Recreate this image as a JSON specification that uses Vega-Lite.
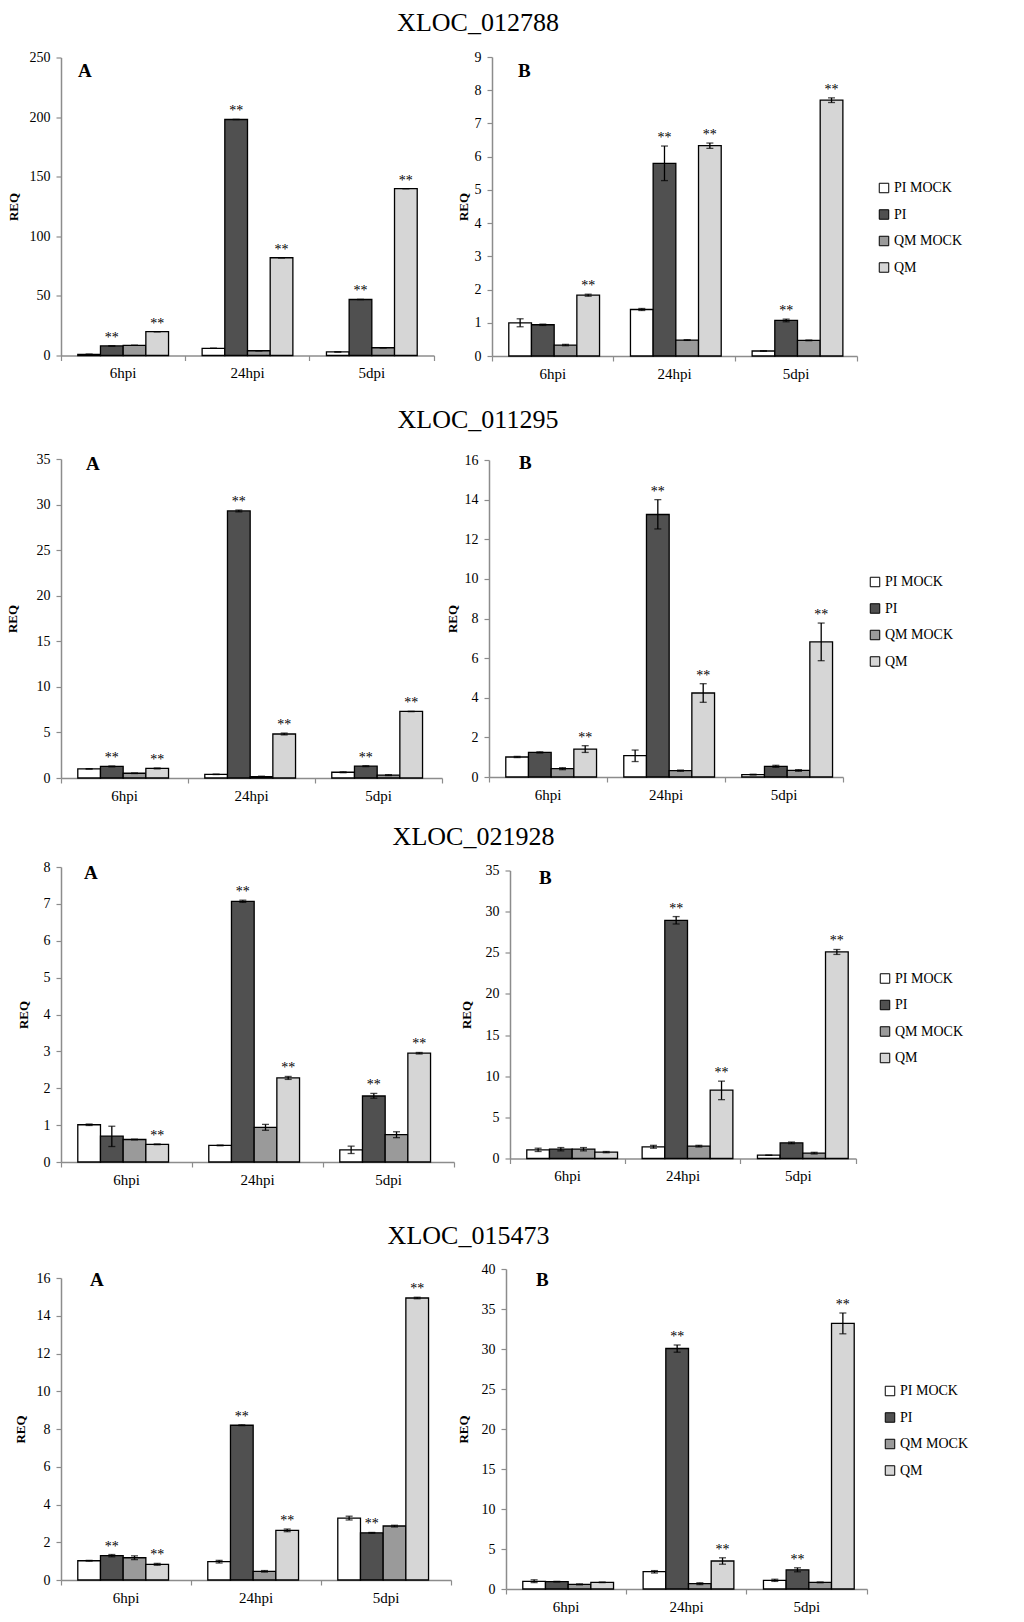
{
  "$schema": "https://vega.github.io/schema/vega-lite/v6.json",
  "background": "white",
  "padding": {"left": 6, "top": 10, "right": 0, "bottom": 0},
  "spacing": 10,
  "datasets": {
    "d": [
      {"gene": "XLOC_012788", "panel": "A", "time": "6hpi", "group": "PI MOCK", "value": 1, "lo": 1, "hi": 1, "sig": ""},
      {"gene": "XLOC_012788", "panel": "A", "time": "6hpi", "group": "PI", "value": 8, "lo": 8, "hi": 8, "sig": "**"},
      {"gene": "XLOC_012788", "panel": "A", "time": "6hpi", "group": "QM MOCK", "value": 8.5, "lo": 8.5, "hi": 8.5, "sig": ""},
      {"gene": "XLOC_012788", "panel": "A", "time": "6hpi", "group": "QM", "value": 20, "lo": 20, "hi": 20, "sig": "**"},
      {"gene": "XLOC_012788", "panel": "A", "time": "24hpi", "group": "PI MOCK", "value": 6, "lo": 6, "hi": 6, "sig": ""},
      {"gene": "XLOC_012788", "panel": "A", "time": "24hpi", "group": "PI", "value": 198, "lo": 198, "hi": 198, "sig": "**"},
      {"gene": "XLOC_012788", "panel": "A", "time": "24hpi", "group": "QM MOCK", "value": 4, "lo": 4, "hi": 4, "sig": ""},
      {"gene": "XLOC_012788", "panel": "A", "time": "24hpi", "group": "QM", "value": 82, "lo": 82, "hi": 82, "sig": "**"},
      {"gene": "XLOC_012788", "panel": "A", "time": "5dpi", "group": "PI MOCK", "value": 3, "lo": 3, "hi": 3, "sig": ""},
      {"gene": "XLOC_012788", "panel": "A", "time": "5dpi", "group": "PI", "value": 47, "lo": 47, "hi": 47, "sig": "**"},
      {"gene": "XLOC_012788", "panel": "A", "time": "5dpi", "group": "QM MOCK", "value": 6.5, "lo": 6.5, "hi": 6.5, "sig": ""},
      {"gene": "XLOC_012788", "panel": "A", "time": "5dpi", "group": "QM", "value": 140, "lo": 140, "hi": 140, "sig": "**"},

      {"gene": "XLOC_012788", "panel": "B", "time": "6hpi", "group": "PI MOCK", "value": 1.0, "lo": 0.88, "hi": 1.12, "sig": ""},
      {"gene": "XLOC_012788", "panel": "B", "time": "6hpi", "group": "PI", "value": 0.94, "lo": 0.92, "hi": 0.96, "sig": ""},
      {"gene": "XLOC_012788", "panel": "B", "time": "6hpi", "group": "QM MOCK", "value": 0.33, "lo": 0.31, "hi": 0.35, "sig": ""},
      {"gene": "XLOC_012788", "panel": "B", "time": "6hpi", "group": "QM", "value": 1.83, "lo": 1.8, "hi": 1.86, "sig": "**"},
      {"gene": "XLOC_012788", "panel": "B", "time": "24hpi", "group": "PI MOCK", "value": 1.4, "lo": 1.37, "hi": 1.43, "sig": ""},
      {"gene": "XLOC_012788", "panel": "B", "time": "24hpi", "group": "PI", "value": 5.8, "lo": 5.28, "hi": 6.32, "sig": "**"},
      {"gene": "XLOC_012788", "panel": "B", "time": "24hpi", "group": "QM MOCK", "value": 0.48, "lo": 0.47, "hi": 0.49, "sig": ""},
      {"gene": "XLOC_012788", "panel": "B", "time": "24hpi", "group": "QM", "value": 6.33, "lo": 6.25, "hi": 6.41, "sig": "**"},
      {"gene": "XLOC_012788", "panel": "B", "time": "5dpi", "group": "PI MOCK", "value": 0.15, "lo": 0.14, "hi": 0.16, "sig": ""},
      {"gene": "XLOC_012788", "panel": "B", "time": "5dpi", "group": "PI", "value": 1.07, "lo": 1.03, "hi": 1.11, "sig": "**"},
      {"gene": "XLOC_012788", "panel": "B", "time": "5dpi", "group": "QM MOCK", "value": 0.47, "lo": 0.46, "hi": 0.48, "sig": ""},
      {"gene": "XLOC_012788", "panel": "B", "time": "5dpi", "group": "QM", "value": 7.7, "lo": 7.63, "hi": 7.77, "sig": "**"},

      {"gene": "XLOC_011295", "panel": "A", "time": "6hpi", "group": "PI MOCK", "value": 1.0, "lo": 0.98, "hi": 1.02, "sig": ""},
      {"gene": "XLOC_011295", "panel": "A", "time": "6hpi", "group": "PI", "value": 1.27, "lo": 1.22, "hi": 1.32, "sig": "**"},
      {"gene": "XLOC_011295", "panel": "A", "time": "6hpi", "group": "QM MOCK", "value": 0.52, "lo": 0.49, "hi": 0.55, "sig": ""},
      {"gene": "XLOC_011295", "panel": "A", "time": "6hpi", "group": "QM", "value": 1.05, "lo": 1.0, "hi": 1.1, "sig": "**"},
      {"gene": "XLOC_011295", "panel": "A", "time": "24hpi", "group": "PI MOCK", "value": 0.4, "lo": 0.38, "hi": 0.42, "sig": ""},
      {"gene": "XLOC_011295", "panel": "A", "time": "24hpi", "group": "PI", "value": 29.3, "lo": 29.2, "hi": 29.4, "sig": "**"},
      {"gene": "XLOC_011295", "panel": "A", "time": "24hpi", "group": "QM MOCK", "value": 0.15, "lo": 0.1, "hi": 0.2, "sig": ""},
      {"gene": "XLOC_011295", "panel": "A", "time": "24hpi", "group": "QM", "value": 4.83, "lo": 4.73, "hi": 4.93, "sig": "**"},
      {"gene": "XLOC_011295", "panel": "A", "time": "5dpi", "group": "PI MOCK", "value": 0.63, "lo": 0.58, "hi": 0.68, "sig": ""},
      {"gene": "XLOC_011295", "panel": "A", "time": "5dpi", "group": "PI", "value": 1.3, "lo": 1.25, "hi": 1.35, "sig": "**"},
      {"gene": "XLOC_011295", "panel": "A", "time": "5dpi", "group": "QM MOCK", "value": 0.32, "lo": 0.27, "hi": 0.37, "sig": ""},
      {"gene": "XLOC_011295", "panel": "A", "time": "5dpi", "group": "QM", "value": 7.3, "lo": 7.28, "hi": 7.32, "sig": "**"},

      {"gene": "XLOC_011295", "panel": "B", "time": "6hpi", "group": "PI MOCK", "value": 1.01, "lo": 0.98, "hi": 1.04, "sig": ""},
      {"gene": "XLOC_011295", "panel": "B", "time": "6hpi", "group": "PI", "value": 1.24, "lo": 1.21, "hi": 1.27, "sig": ""},
      {"gene": "XLOC_011295", "panel": "B", "time": "6hpi", "group": "QM MOCK", "value": 0.42, "lo": 0.37, "hi": 0.47, "sig": ""},
      {"gene": "XLOC_011295", "panel": "B", "time": "6hpi", "group": "QM", "value": 1.41, "lo": 1.24, "hi": 1.58, "sig": "**"},
      {"gene": "XLOC_011295", "panel": "B", "time": "24hpi", "group": "PI MOCK", "value": 1.08, "lo": 0.78, "hi": 1.36, "sig": ""},
      {"gene": "XLOC_011295", "panel": "B", "time": "24hpi", "group": "PI", "value": 13.25, "lo": 12.52, "hi": 14.0, "sig": "**"},
      {"gene": "XLOC_011295", "panel": "B", "time": "24hpi", "group": "QM MOCK", "value": 0.32, "lo": 0.29, "hi": 0.35, "sig": ""},
      {"gene": "XLOC_011295", "panel": "B", "time": "24hpi", "group": "QM", "value": 4.24, "lo": 3.77, "hi": 4.71, "sig": "**"},
      {"gene": "XLOC_011295", "panel": "B", "time": "5dpi", "group": "PI MOCK", "value": 0.12, "lo": 0.1, "hi": 0.14, "sig": ""},
      {"gene": "XLOC_011295", "panel": "B", "time": "5dpi", "group": "PI", "value": 0.54, "lo": 0.49, "hi": 0.59, "sig": ""},
      {"gene": "XLOC_011295", "panel": "B", "time": "5dpi", "group": "QM MOCK", "value": 0.33, "lo": 0.29, "hi": 0.37, "sig": ""},
      {"gene": "XLOC_011295", "panel": "B", "time": "5dpi", "group": "QM", "value": 6.82, "lo": 5.87, "hi": 7.77, "sig": "**"},

      {"gene": "XLOC_021928", "panel": "A", "time": "6hpi", "group": "PI MOCK", "value": 1.01, "lo": 0.99, "hi": 1.03, "sig": ""},
      {"gene": "XLOC_021928", "panel": "A", "time": "6hpi", "group": "PI", "value": 0.7, "lo": 0.42, "hi": 0.97, "sig": ""},
      {"gene": "XLOC_021928", "panel": "A", "time": "6hpi", "group": "QM MOCK", "value": 0.61, "lo": 0.6, "hi": 0.62, "sig": ""},
      {"gene": "XLOC_021928", "panel": "A", "time": "6hpi", "group": "QM", "value": 0.48, "lo": 0.47, "hi": 0.49, "sig": "**"},
      {"gene": "XLOC_021928", "panel": "A", "time": "24hpi", "group": "PI MOCK", "value": 0.45, "lo": 0.44, "hi": 0.46, "sig": ""},
      {"gene": "XLOC_021928", "panel": "A", "time": "24hpi", "group": "PI", "value": 7.07, "lo": 7.04, "hi": 7.1, "sig": "**"},
      {"gene": "XLOC_021928", "panel": "A", "time": "24hpi", "group": "QM MOCK", "value": 0.94, "lo": 0.86, "hi": 1.02, "sig": ""},
      {"gene": "XLOC_021928", "panel": "A", "time": "24hpi", "group": "QM", "value": 2.28, "lo": 2.24, "hi": 2.32, "sig": "**"},
      {"gene": "XLOC_021928", "panel": "A", "time": "5dpi", "group": "PI MOCK", "value": 0.33, "lo": 0.23, "hi": 0.43, "sig": ""},
      {"gene": "XLOC_021928", "panel": "A", "time": "5dpi", "group": "PI", "value": 1.79, "lo": 1.73, "hi": 1.86, "sig": "**"},
      {"gene": "XLOC_021928", "panel": "A", "time": "5dpi", "group": "QM MOCK", "value": 0.74, "lo": 0.66, "hi": 0.82, "sig": ""},
      {"gene": "XLOC_021928", "panel": "A", "time": "5dpi", "group": "QM", "value": 2.95, "lo": 2.93, "hi": 2.97, "sig": "**"},

      {"gene": "XLOC_021928", "panel": "B", "time": "6hpi", "group": "PI MOCK", "value": 1.05, "lo": 0.85, "hi": 1.25, "sig": ""},
      {"gene": "XLOC_021928", "panel": "B", "time": "6hpi", "group": "PI", "value": 1.13, "lo": 0.93, "hi": 1.33, "sig": ""},
      {"gene": "XLOC_021928", "panel": "B", "time": "6hpi", "group": "QM MOCK", "value": 1.13, "lo": 0.93, "hi": 1.33, "sig": ""},
      {"gene": "XLOC_021928", "panel": "B", "time": "6hpi", "group": "QM", "value": 0.77, "lo": 0.7, "hi": 0.85, "sig": ""},
      {"gene": "XLOC_021928", "panel": "B", "time": "24hpi", "group": "PI MOCK", "value": 1.42, "lo": 1.25, "hi": 1.6, "sig": ""},
      {"gene": "XLOC_021928", "panel": "B", "time": "24hpi", "group": "PI", "value": 28.95, "lo": 28.5, "hi": 29.4, "sig": "**"},
      {"gene": "XLOC_021928", "panel": "B", "time": "24hpi", "group": "QM MOCK", "value": 1.5, "lo": 1.4, "hi": 1.6, "sig": ""},
      {"gene": "XLOC_021928", "panel": "B", "time": "24hpi", "group": "QM", "value": 8.3, "lo": 7.15, "hi": 9.4, "sig": "**"},
      {"gene": "XLOC_021928", "panel": "B", "time": "5dpi", "group": "PI MOCK", "value": 0.4, "lo": 0.38, "hi": 0.42, "sig": ""},
      {"gene": "XLOC_021928", "panel": "B", "time": "5dpi", "group": "PI", "value": 1.9, "lo": 1.8, "hi": 2.0, "sig": ""},
      {"gene": "XLOC_021928", "panel": "B", "time": "5dpi", "group": "QM MOCK", "value": 0.65, "lo": 0.55, "hi": 0.75, "sig": ""},
      {"gene": "XLOC_021928", "panel": "B", "time": "5dpi", "group": "QM", "value": 25.1, "lo": 24.8, "hi": 25.4, "sig": "**"},

      {"gene": "XLOC_015473", "panel": "A", "time": "6hpi", "group": "PI MOCK", "value": 1.02, "lo": 1.0, "hi": 1.04, "sig": ""},
      {"gene": "XLOC_015473", "panel": "A", "time": "6hpi", "group": "PI", "value": 1.29, "lo": 1.23, "hi": 1.35, "sig": "**"},
      {"gene": "XLOC_015473", "panel": "A", "time": "6hpi", "group": "QM MOCK", "value": 1.18, "lo": 1.08, "hi": 1.28, "sig": ""},
      {"gene": "XLOC_015473", "panel": "A", "time": "6hpi", "group": "QM", "value": 0.83, "lo": 0.78, "hi": 0.88, "sig": "**"},
      {"gene": "XLOC_015473", "panel": "A", "time": "24hpi", "group": "PI MOCK", "value": 0.97, "lo": 0.9, "hi": 1.04, "sig": ""},
      {"gene": "XLOC_015473", "panel": "A", "time": "24hpi", "group": "PI", "value": 8.2, "lo": 8.18, "hi": 8.22, "sig": "**"},
      {"gene": "XLOC_015473", "panel": "A", "time": "24hpi", "group": "QM MOCK", "value": 0.46, "lo": 0.42, "hi": 0.5, "sig": ""},
      {"gene": "XLOC_015473", "panel": "A", "time": "24hpi", "group": "QM", "value": 2.63, "lo": 2.56, "hi": 2.7, "sig": "**"},
      {"gene": "XLOC_015473", "panel": "A", "time": "5dpi", "group": "PI MOCK", "value": 3.28, "lo": 3.18, "hi": 3.38, "sig": ""},
      {"gene": "XLOC_015473", "panel": "A", "time": "5dpi", "group": "PI", "value": 2.5, "lo": 2.48, "hi": 2.52, "sig": "**"},
      {"gene": "XLOC_015473", "panel": "A", "time": "5dpi", "group": "QM MOCK", "value": 2.86, "lo": 2.81, "hi": 2.9, "sig": ""},
      {"gene": "XLOC_015473", "panel": "A", "time": "5dpi", "group": "QM", "value": 14.94, "lo": 14.9, "hi": 14.98, "sig": "**"},

      {"gene": "XLOC_015473", "panel": "B", "time": "6hpi", "group": "PI MOCK", "value": 0.96, "lo": 0.8, "hi": 1.15, "sig": ""},
      {"gene": "XLOC_015473", "panel": "B", "time": "6hpi", "group": "PI", "value": 0.92, "lo": 0.88, "hi": 0.96, "sig": ""},
      {"gene": "XLOC_015473", "panel": "B", "time": "6hpi", "group": "QM MOCK", "value": 0.58, "lo": 0.52, "hi": 0.64, "sig": ""},
      {"gene": "XLOC_015473", "panel": "B", "time": "6hpi", "group": "QM", "value": 0.83, "lo": 0.8, "hi": 0.87, "sig": ""},
      {"gene": "XLOC_015473", "panel": "B", "time": "24hpi", "group": "PI MOCK", "value": 2.16, "lo": 2.0, "hi": 2.3, "sig": ""},
      {"gene": "XLOC_015473", "panel": "B", "time": "24hpi", "group": "PI", "value": 30.06, "lo": 29.6, "hi": 30.5, "sig": "**"},
      {"gene": "XLOC_015473", "panel": "B", "time": "24hpi", "group": "QM MOCK", "value": 0.67, "lo": 0.55, "hi": 0.78, "sig": ""},
      {"gene": "XLOC_015473", "panel": "B", "time": "24hpi", "group": "QM", "value": 3.5, "lo": 3.1, "hi": 3.9, "sig": "**"},
      {"gene": "XLOC_015473", "panel": "B", "time": "5dpi", "group": "PI MOCK", "value": 1.08, "lo": 0.95, "hi": 1.22, "sig": ""},
      {"gene": "XLOC_015473", "panel": "B", "time": "5dpi", "group": "PI", "value": 2.4, "lo": 2.15, "hi": 2.65, "sig": "**"},
      {"gene": "XLOC_015473", "panel": "B", "time": "5dpi", "group": "QM MOCK", "value": 0.83, "lo": 0.78, "hi": 0.88, "sig": ""},
      {"gene": "XLOC_015473", "panel": "B", "time": "5dpi", "group": "QM", "value": 33.2, "lo": 31.9, "hi": 34.5, "sig": "**"}
    ]
  },
  "resolve": {"scale": {"color": "independent"}, "legend": {"color": "independent"}},
  "vconcat": [
    {
      "title": {"text": "XLOC_012788", "dx": -7, "offset": 14},
      "spacing": 22, "center": true,
      "resolve": {"scale": {"color": "independent"}, "legend": {"color": "independent"}},
      "hconcat": [
        {
          "width": 373, "height": 298,
          "data": {"name": "d"},
          "transform": [{"filter": "datum.gene == 'XLOC_012788' && datum.panel == 'A'"}],
          "title": {"text": "A", "anchor": "start", "frame": "group", "dx": 17, "offset": -30, "fontSize": 19, "fontWeight": "bold"},
          "encoding": {
            "x": {"field": "time", "type": "nominal", "sort": ["6hpi", "24hpi", "5dpi"], "scale": {"paddingInner": 0, "paddingOuter": 0}, "axis": {"title": " ", "titleFontSize": 16, "titlePadding": 0}},
            "xOffset": {"field": "group", "type": "nominal", "sort": ["PI MOCK", "PI", "QM MOCK", "QM"], "scale": {"paddingInner": 0, "paddingOuter": 0.74}}
          },
          "layer": [
            {"mark": {"type": "bar", "stroke": "black", "strokeWidth": 1.3}, "encoding": {"y": {"field": "value", "type": "quantitative", "title": "REQ", "scale": {"domain": [0, 250], "nice": false}, "axis": {"values": [0, 50, 100, 150, 200, 250], "minExtent": 37, "maxExtent": 37}}, "color": {"field": "group", "type": "nominal", "scale": {"domain": ["PI MOCK", "PI", "QM MOCK", "QM"], "range": ["#ffffff", "#505050", "#9a9a9a", "#d6d6d6"]}, "legend": null}}},
            {"mark": {"type": "rule", "color": "black", "strokeWidth": 1.3}, "encoding": {"y": {"field": "lo", "type": "quantitative", "title": "REQ", "scale": {"domain": [0, 250], "nice": false}, "axis": {"values": [0, 50, 100, 150, 200, 250], "minExtent": 37, "maxExtent": 37}}, "y2": {"field": "hi"}}},
            {"mark": {"type": "tick", "color": "black", "thickness": 1.3, "size": 7}, "encoding": {"y": {"field": "hi", "type": "quantitative", "title": "REQ", "scale": {"domain": [0, 250], "nice": false}, "axis": {"values": [0, 50, 100, 150, 200, 250], "minExtent": 37, "maxExtent": 37}}}},
            {"mark": {"type": "tick", "color": "black", "thickness": 1.3, "size": 7}, "encoding": {"y": {"field": "lo", "type": "quantitative", "title": "REQ", "scale": {"domain": [0, 250], "nice": false}, "axis": {"values": [0, 50, 100, 150, 200, 250], "minExtent": 37, "maxExtent": 37}}}},
            {"mark": {"type": "text", "font": "Liberation Serif", "fontSize": 14, "baseline": "alphabetic", "dy": -4, "color": "black"}, "encoding": {"y": {"field": "hi", "type": "quantitative", "title": "REQ", "scale": {"domain": [0, 250], "nice": false}, "axis": {"values": [0, 50, 100, 150, 200, 250], "minExtent": 37, "maxExtent": 37}}, "text": {"field": "sig"}}}
          ]
        },
        {
          "width": 365, "height": 299,
          "data": {"name": "d"},
          "transform": [{"filter": "datum.gene == 'XLOC_012788' && datum.panel == 'B'"}],
          "title": {"text": "B", "anchor": "start", "frame": "group", "dx": 26, "offset": -31, "fontSize": 19, "fontWeight": "bold"},
          "encoding": {
            "x": {"field": "time", "type": "nominal", "sort": ["6hpi", "24hpi", "5dpi"], "scale": {"paddingInner": 0, "paddingOuter": 0}, "axis": {"title": " ", "titleFontSize": 16, "titlePadding": 0}},
            "xOffset": {"field": "group", "type": "nominal", "sort": ["PI MOCK", "PI", "QM MOCK", "QM"], "scale": {"paddingInner": 0, "paddingOuter": 0.74}}
          },
          "layer": [
            {"mark": {"type": "bar", "stroke": "black", "strokeWidth": 1.3}, "encoding": {"y": {"field": "value", "type": "quantitative", "title": "REQ", "scale": {"domain": [0, 9], "nice": false}, "axis": {"values": [0, 1, 2, 3, 4, 5, 6, 7, 8, 9], "minExtent": 18, "maxExtent": 18}}, "color": {"field": "group", "type": "nominal", "scale": {"domain": ["PI MOCK", "PI", "QM MOCK", "QM"], "range": ["#ffffff", "#505050", "#9a9a9a", "#d6d6d6"]}, "legend": {"legendX": 385, "legendY": 124}}}},
            {"mark": {"type": "rule", "color": "black", "strokeWidth": 1.3}, "encoding": {"y": {"field": "lo", "type": "quantitative", "title": "REQ", "scale": {"domain": [0, 9], "nice": false}, "axis": {"values": [0, 1, 2, 3, 4, 5, 6, 7, 8, 9], "minExtent": 18, "maxExtent": 18}}, "y2": {"field": "hi"}}},
            {"mark": {"type": "tick", "color": "black", "thickness": 1.3, "size": 7}, "encoding": {"y": {"field": "hi", "type": "quantitative", "title": "REQ", "scale": {"domain": [0, 9], "nice": false}, "axis": {"values": [0, 1, 2, 3, 4, 5, 6, 7, 8, 9], "minExtent": 18, "maxExtent": 18}}}},
            {"mark": {"type": "tick", "color": "black", "thickness": 1.3, "size": 7}, "encoding": {"y": {"field": "lo", "type": "quantitative", "title": "REQ", "scale": {"domain": [0, 9], "nice": false}, "axis": {"values": [0, 1, 2, 3, 4, 5, 6, 7, 8, 9], "minExtent": 18, "maxExtent": 18}}}},
            {"mark": {"type": "text", "font": "Liberation Serif", "fontSize": 14, "baseline": "alphabetic", "dy": -4, "color": "black"}, "encoding": {"y": {"field": "hi", "type": "quantitative", "title": "REQ", "scale": {"domain": [0, 9], "nice": false}, "axis": {"values": [0, 1, 2, 3, 4, 5, 6, 7, 8, 9], "minExtent": 18, "maxExtent": 18}}, "text": {"field": "sig"}}}
          ]
        }
      ]
    },
    {
      "title": {"text": "XLOC_011295", "dx": -2, "offset": 19},
      "spacing": 3, "center": true,
      "resolve": {"scale": {"color": "independent"}, "legend": {"color": "independent"}},
      "hconcat": [
        {
          "width": 381, "height": 319,
          "data": {"name": "d"},
          "transform": [{"filter": "datum.gene == 'XLOC_011295' && datum.panel == 'A'"}],
          "title": {"text": "A", "anchor": "start", "frame": "group", "dx": 25, "offset": -22, "fontSize": 19, "fontWeight": "bold"},
          "encoding": {
            "x": {"field": "time", "type": "nominal", "sort": ["6hpi", "24hpi", "5dpi"], "scale": {"paddingInner": 0, "paddingOuter": 0}, "axis": {"title": " ", "titleFontSize": 12, "titlePadding": 0}},
            "xOffset": {"field": "group", "type": "nominal", "sort": ["PI MOCK", "PI", "QM MOCK", "QM"], "scale": {"paddingInner": 0, "paddingOuter": 0.74}}
          },
          "layer": [
            {"mark": {"type": "bar", "stroke": "black", "strokeWidth": 1.3}, "encoding": {"y": {"field": "value", "type": "quantitative", "title": "REQ", "scale": {"domain": [0, 35], "nice": false}, "axis": {"values": [0, 5, 10, 15, 20, 25, 30, 35], "minExtent": 38, "maxExtent": 38}}, "color": {"field": "group", "type": "nominal", "scale": {"domain": ["PI MOCK", "PI", "QM MOCK", "QM"], "range": ["#ffffff", "#505050", "#9a9a9a", "#d6d6d6"]}, "legend": null}}},
            {"mark": {"type": "rule", "color": "black", "strokeWidth": 1.3}, "encoding": {"y": {"field": "lo", "type": "quantitative", "title": "REQ", "scale": {"domain": [0, 35], "nice": false}, "axis": {"values": [0, 5, 10, 15, 20, 25, 30, 35], "minExtent": 38, "maxExtent": 38}}, "y2": {"field": "hi"}}},
            {"mark": {"type": "tick", "color": "black", "thickness": 1.3, "size": 7}, "encoding": {"y": {"field": "hi", "type": "quantitative", "title": "REQ", "scale": {"domain": [0, 35], "nice": false}, "axis": {"values": [0, 5, 10, 15, 20, 25, 30, 35], "minExtent": 38, "maxExtent": 38}}}},
            {"mark": {"type": "tick", "color": "black", "thickness": 1.3, "size": 7}, "encoding": {"y": {"field": "lo", "type": "quantitative", "title": "REQ", "scale": {"domain": [0, 35], "nice": false}, "axis": {"values": [0, 5, 10, 15, 20, 25, 30, 35], "minExtent": 38, "maxExtent": 38}}}},
            {"mark": {"type": "text", "font": "Liberation Serif", "fontSize": 14, "baseline": "alphabetic", "dy": -4, "color": "black"}, "encoding": {"y": {"field": "hi", "type": "quantitative", "title": "REQ", "scale": {"domain": [0, 35], "nice": false}, "axis": {"values": [0, 5, 10, 15, 20, 25, 30, 35], "minExtent": 38, "maxExtent": 38}}, "text": {"field": "sig"}}}
          ]
        },
        {
          "width": 354, "height": 317,
          "data": {"name": "d"},
          "transform": [{"filter": "datum.gene == 'XLOC_011295' && datum.panel == 'B'"}],
          "title": {"text": "B", "anchor": "start", "frame": "group", "dx": 30, "offset": -20, "fontSize": 19, "fontWeight": "bold"},
          "encoding": {
            "x": {"field": "time", "type": "nominal", "sort": ["6hpi", "24hpi", "5dpi"], "scale": {"paddingInner": 0, "paddingOuter": 0}, "axis": {"title": " ", "titleFontSize": 12, "titlePadding": 0}},
            "xOffset": {"field": "group", "type": "nominal", "sort": ["PI MOCK", "PI", "QM MOCK", "QM"], "scale": {"paddingInner": 0, "paddingOuter": 0.74}}
          },
          "layer": [
            {"mark": {"type": "bar", "stroke": "black", "strokeWidth": 1.3}, "encoding": {"y": {"field": "value", "type": "quantitative", "title": "REQ", "scale": {"domain": [0, 16], "nice": false}, "axis": {"values": [0, 2, 4, 6, 8, 10, 12, 14, 16], "minExtent": 26, "maxExtent": 26}}, "color": {"field": "group", "type": "nominal", "scale": {"domain": ["PI MOCK", "PI", "QM MOCK", "QM"], "range": ["#ffffff", "#505050", "#9a9a9a", "#d6d6d6"]}, "legend": {"legendX": 379, "legendY": 115}}}},
            {"mark": {"type": "rule", "color": "black", "strokeWidth": 1.3}, "encoding": {"y": {"field": "lo", "type": "quantitative", "title": "REQ", "scale": {"domain": [0, 16], "nice": false}, "axis": {"values": [0, 2, 4, 6, 8, 10, 12, 14, 16], "minExtent": 26, "maxExtent": 26}}, "y2": {"field": "hi"}}},
            {"mark": {"type": "tick", "color": "black", "thickness": 1.3, "size": 7}, "encoding": {"y": {"field": "hi", "type": "quantitative", "title": "REQ", "scale": {"domain": [0, 16], "nice": false}, "axis": {"values": [0, 2, 4, 6, 8, 10, 12, 14, 16], "minExtent": 26, "maxExtent": 26}}}},
            {"mark": {"type": "tick", "color": "black", "thickness": 1.3, "size": 7}, "encoding": {"y": {"field": "lo", "type": "quantitative", "title": "REQ", "scale": {"domain": [0, 16], "nice": false}, "axis": {"values": [0, 2, 4, 6, 8, 10, 12, 14, 16], "minExtent": 26, "maxExtent": 26}}}},
            {"mark": {"type": "text", "font": "Liberation Serif", "fontSize": 14, "baseline": "alphabetic", "dy": -4, "color": "black"}, "encoding": {"y": {"field": "hi", "type": "quantitative", "title": "REQ", "scale": {"domain": [0, 16], "nice": false}, "axis": {"values": [0, 2, 4, 6, 8, 10, 12, 14, 16], "minExtent": 26, "maxExtent": 26}}, "text": {"field": "sig"}}}
          ]
        }
      ]
    },
    {
      "title": {"text": "XLOC_021928", "dx": -17, "offset": 10},
      "spacing": 5, "center": true,
      "resolve": {"scale": {"color": "independent"}, "legend": {"color": "independent"}},
      "hconcat": [
        {
          "width": 393, "height": 295,
          "data": {"name": "d"},
          "transform": [{"filter": "datum.gene == 'XLOC_021928' && datum.panel == 'A'"}],
          "title": {"text": "A", "anchor": "start", "frame": "group", "dx": 23, "offset": -23, "fontSize": 19, "fontWeight": "bold"},
          "encoding": {
            "x": {"field": "time", "type": "nominal", "sort": ["6hpi", "24hpi", "5dpi"], "scale": {"paddingInner": 0, "paddingOuter": 0}, "axis": {"title": " ", "titleFontSize": 26, "titlePadding": 0}},
            "xOffset": {"field": "group", "type": "nominal", "sort": ["PI MOCK", "PI", "QM MOCK", "QM"], "scale": {"paddingInner": 0, "paddingOuter": 0.74}}
          },
          "layer": [
            {"mark": {"type": "bar", "stroke": "black", "strokeWidth": 1.3}, "encoding": {"y": {"field": "value", "type": "quantitative", "title": "REQ", "scale": {"domain": [0, 8], "nice": false}, "axis": {"values": [0, 1, 2, 3, 4, 5, 6, 7, 8], "minExtent": 27, "maxExtent": 27}}, "color": {"field": "group", "type": "nominal", "scale": {"domain": ["PI MOCK", "PI", "QM MOCK", "QM"], "range": ["#ffffff", "#505050", "#9a9a9a", "#d6d6d6"]}, "legend": null}}},
            {"mark": {"type": "rule", "color": "black", "strokeWidth": 1.3}, "encoding": {"y": {"field": "lo", "type": "quantitative", "title": "REQ", "scale": {"domain": [0, 8], "nice": false}, "axis": {"values": [0, 1, 2, 3, 4, 5, 6, 7, 8], "minExtent": 27, "maxExtent": 27}}, "y2": {"field": "hi"}}},
            {"mark": {"type": "tick", "color": "black", "thickness": 1.3, "size": 7}, "encoding": {"y": {"field": "hi", "type": "quantitative", "title": "REQ", "scale": {"domain": [0, 8], "nice": false}, "axis": {"values": [0, 1, 2, 3, 4, 5, 6, 7, 8], "minExtent": 27, "maxExtent": 27}}}},
            {"mark": {"type": "tick", "color": "black", "thickness": 1.3, "size": 7}, "encoding": {"y": {"field": "lo", "type": "quantitative", "title": "REQ", "scale": {"domain": [0, 8], "nice": false}, "axis": {"values": [0, 1, 2, 3, 4, 5, 6, 7, 8], "minExtent": 27, "maxExtent": 27}}}},
            {"mark": {"type": "text", "font": "Liberation Serif", "fontSize": 14, "baseline": "alphabetic", "dy": -4, "color": "black"}, "encoding": {"y": {"field": "hi", "type": "quantitative", "title": "REQ", "scale": {"domain": [0, 8], "nice": false}, "axis": {"values": [0, 1, 2, 3, 4, 5, 6, 7, 8], "minExtent": 27, "maxExtent": 27}}, "text": {"field": "sig"}}}
          ]
        },
        {
          "width": 346, "height": 288,
          "data": {"name": "d"},
          "transform": [{"filter": "datum.gene == 'XLOC_021928' && datum.panel == 'B'"}],
          "title": {"text": "B", "anchor": "start", "frame": "group", "dx": 29, "offset": -24, "fontSize": 19, "fontWeight": "bold"},
          "encoding": {
            "x": {"field": "time", "type": "nominal", "sort": ["6hpi", "24hpi", "5dpi"], "scale": {"paddingInner": 0, "paddingOuter": 0}, "axis": {"title": " ", "titleFontSize": 26, "titlePadding": 0}},
            "xOffset": {"field": "group", "type": "nominal", "sort": ["PI MOCK", "PI", "QM MOCK", "QM"], "scale": {"paddingInner": 0, "paddingOuter": 0.74}}
          },
          "layer": [
            {"mark": {"type": "bar", "stroke": "black", "strokeWidth": 1.3}, "encoding": {"y": {"field": "value", "type": "quantitative", "title": "REQ", "scale": {"domain": [0, 35], "nice": false}, "axis": {"values": [0, 5, 10, 15, 20, 25, 30, 35], "minExtent": 33, "maxExtent": 33}}, "color": {"field": "group", "type": "nominal", "scale": {"domain": ["PI MOCK", "PI", "QM MOCK", "QM"], "range": ["#ffffff", "#505050", "#9a9a9a", "#d6d6d6"]}, "legend": {"legendX": 368, "legendY": 101}}}},
            {"mark": {"type": "rule", "color": "black", "strokeWidth": 1.3}, "encoding": {"y": {"field": "lo", "type": "quantitative", "title": "REQ", "scale": {"domain": [0, 35], "nice": false}, "axis": {"values": [0, 5, 10, 15, 20, 25, 30, 35], "minExtent": 33, "maxExtent": 33}}, "y2": {"field": "hi"}}},
            {"mark": {"type": "tick", "color": "black", "thickness": 1.3, "size": 7}, "encoding": {"y": {"field": "hi", "type": "quantitative", "title": "REQ", "scale": {"domain": [0, 35], "nice": false}, "axis": {"values": [0, 5, 10, 15, 20, 25, 30, 35], "minExtent": 33, "maxExtent": 33}}}},
            {"mark": {"type": "tick", "color": "black", "thickness": 1.3, "size": 7}, "encoding": {"y": {"field": "lo", "type": "quantitative", "title": "REQ", "scale": {"domain": [0, 35], "nice": false}, "axis": {"values": [0, 5, 10, 15, 20, 25, 30, 35], "minExtent": 33, "maxExtent": 33}}}},
            {"mark": {"type": "text", "font": "Liberation Serif", "fontSize": 14, "baseline": "alphabetic", "dy": -4, "color": "black"}, "encoding": {"y": {"field": "hi", "type": "quantitative", "title": "REQ", "scale": {"domain": [0, 35], "nice": false}, "axis": {"values": [0, 5, 10, 15, 20, 25, 30, 35], "minExtent": 33, "maxExtent": 33}}, "text": {"field": "sig"}}}
          ]
        }
      ]
    },
    {
      "title": {"text": "XLOC_015473", "dx": -23, "offset": 13},
      "spacing": 5, "center": true,
      "resolve": {"scale": {"color": "independent"}, "legend": {"color": "independent"}},
      "hconcat": [
        {
          "width": 390, "height": 302,
          "data": {"name": "d"},
          "transform": [{"filter": "datum.gene == 'XLOC_015473' && datum.panel == 'A'"}],
          "title": {"text": "A", "anchor": "start", "frame": "group", "dx": 29, "offset": -19, "fontSize": 19, "fontWeight": "bold"},
          "encoding": {
            "x": {"field": "time", "type": "nominal", "sort": ["6hpi", "24hpi", "5dpi"], "scale": {"paddingInner": 0, "paddingOuter": 0}, "axis": {"title": null}},
            "xOffset": {"field": "group", "type": "nominal", "sort": ["PI MOCK", "PI", "QM MOCK", "QM"], "scale": {"paddingInner": 0, "paddingOuter": 0.74}}
          },
          "layer": [
            {"mark": {"type": "bar", "stroke": "black", "strokeWidth": 1.3}, "encoding": {"y": {"field": "value", "type": "quantitative", "title": "REQ", "scale": {"domain": [0, 16], "nice": false}, "axis": {"values": [0, 2, 4, 6, 8, 10, 12, 14, 16], "minExtent": 30, "maxExtent": 30}}, "color": {"field": "group", "type": "nominal", "scale": {"domain": ["PI MOCK", "PI", "QM MOCK", "QM"], "range": ["#ffffff", "#505050", "#9a9a9a", "#d6d6d6"]}, "legend": null}}},
            {"mark": {"type": "rule", "color": "black", "strokeWidth": 1.3}, "encoding": {"y": {"field": "lo", "type": "quantitative", "title": "REQ", "scale": {"domain": [0, 16], "nice": false}, "axis": {"values": [0, 2, 4, 6, 8, 10, 12, 14, 16], "minExtent": 30, "maxExtent": 30}}, "y2": {"field": "hi"}}},
            {"mark": {"type": "tick", "color": "black", "thickness": 1.3, "size": 7}, "encoding": {"y": {"field": "hi", "type": "quantitative", "title": "REQ", "scale": {"domain": [0, 16], "nice": false}, "axis": {"values": [0, 2, 4, 6, 8, 10, 12, 14, 16], "minExtent": 30, "maxExtent": 30}}}},
            {"mark": {"type": "tick", "color": "black", "thickness": 1.3, "size": 7}, "encoding": {"y": {"field": "lo", "type": "quantitative", "title": "REQ", "scale": {"domain": [0, 16], "nice": false}, "axis": {"values": [0, 2, 4, 6, 8, 10, 12, 14, 16], "minExtent": 30, "maxExtent": 30}}}},
            {"mark": {"type": "text", "font": "Liberation Serif", "fontSize": 14, "baseline": "alphabetic", "dy": -4, "color": "black"}, "encoding": {"y": {"field": "hi", "type": "quantitative", "title": "REQ", "scale": {"domain": [0, 16], "nice": false}, "axis": {"values": [0, 2, 4, 6, 8, 10, 12, 14, 16], "minExtent": 30, "maxExtent": 30}}, "text": {"field": "sig"}}}
          ]
        },
        {
          "width": 361, "height": 320,
          "data": {"name": "d"},
          "transform": [{"filter": "datum.gene == 'XLOC_015473' && datum.panel == 'B'"}],
          "title": {"text": "B", "anchor": "start", "frame": "group", "dx": 30, "offset": -28, "fontSize": 19, "fontWeight": "bold"},
          "encoding": {
            "x": {"field": "time", "type": "nominal", "sort": ["6hpi", "24hpi", "5dpi"], "scale": {"paddingInner": 0, "paddingOuter": 0}, "axis": {"title": null}},
            "xOffset": {"field": "group", "type": "nominal", "sort": ["PI MOCK", "PI", "QM MOCK", "QM"], "scale": {"paddingInner": 0, "paddingOuter": 0.74}}
          },
          "layer": [
            {"mark": {"type": "bar", "stroke": "black", "strokeWidth": 1.3}, "encoding": {"y": {"field": "value", "type": "quantitative", "title": "REQ", "scale": {"domain": [0, 40], "nice": false}, "axis": {"values": [0, 5, 10, 15, 20, 25, 30, 35, 40], "minExtent": 32, "maxExtent": 32}}, "color": {"field": "group", "type": "nominal", "scale": {"domain": ["PI MOCK", "PI", "QM MOCK", "QM"], "range": ["#ffffff", "#505050", "#9a9a9a", "#d6d6d6"]}, "legend": {"legendX": 377, "legendY": 115}}}},
            {"mark": {"type": "rule", "color": "black", "strokeWidth": 1.3}, "encoding": {"y": {"field": "lo", "type": "quantitative", "title": "REQ", "scale": {"domain": [0, 40], "nice": false}, "axis": {"values": [0, 5, 10, 15, 20, 25, 30, 35, 40], "minExtent": 32, "maxExtent": 32}}, "y2": {"field": "hi"}}},
            {"mark": {"type": "tick", "color": "black", "thickness": 1.3, "size": 7}, "encoding": {"y": {"field": "hi", "type": "quantitative", "title": "REQ", "scale": {"domain": [0, 40], "nice": false}, "axis": {"values": [0, 5, 10, 15, 20, 25, 30, 35, 40], "minExtent": 32, "maxExtent": 32}}}},
            {"mark": {"type": "tick", "color": "black", "thickness": 1.3, "size": 7}, "encoding": {"y": {"field": "lo", "type": "quantitative", "title": "REQ", "scale": {"domain": [0, 40], "nice": false}, "axis": {"values": [0, 5, 10, 15, 20, 25, 30, 35, 40], "minExtent": 32, "maxExtent": 32}}}},
            {"mark": {"type": "text", "font": "Liberation Serif", "fontSize": 14, "baseline": "alphabetic", "dy": -4, "color": "black"}, "encoding": {"y": {"field": "hi", "type": "quantitative", "title": "REQ", "scale": {"domain": [0, 40], "nice": false}, "axis": {"values": [0, 5, 10, 15, 20, 25, 30, 35, 40], "minExtent": 32, "maxExtent": 32}}, "text": {"field": "sig"}}}
          ]
        }
      ]
    }
  ],
  "config": {
    "view": {"stroke": null},
    "font": "Liberation Serif",
    "title": {"font": "Liberation Serif", "fontSize": 26, "fontWeight": "normal", "color": "black", "anchor": "middle"},
    "axis": {"grid": false, "domainColor": "#8c8c8c", "domainWidth": 1.5, "tickColor": "#8c8c8c", "tickWidth": 1.2, "labelFont": "Liberation Serif", "labelColor": "black", "titleFont": "Liberation Serif", "titleColor": "black", "labelOverlap": false},
    "axisX": {"labelFontSize": 15, "labelAngle": 0, "tickSize": 5, "labelPadding": 5, "bandPosition": 1, "tickExtra": true},
    "axisY": {"labelFontSize": 14, "tickSize": 5, "labelPadding": 6, "titleFontSize": 13, "titleFontWeight": "bold", "titlePadding": 4},
    "legend": {"orient": "none", "title": null, "symbolType": "square", "symbolSize": 90, "symbolStrokeColor": "black", "symbolStrokeWidth": 1, "labelFont": "Liberation Serif", "labelFontSize": 14, "labelColor": "black", "rowPadding": 12.5, "padding": 0, "labelOffset": 3}
  }
}
